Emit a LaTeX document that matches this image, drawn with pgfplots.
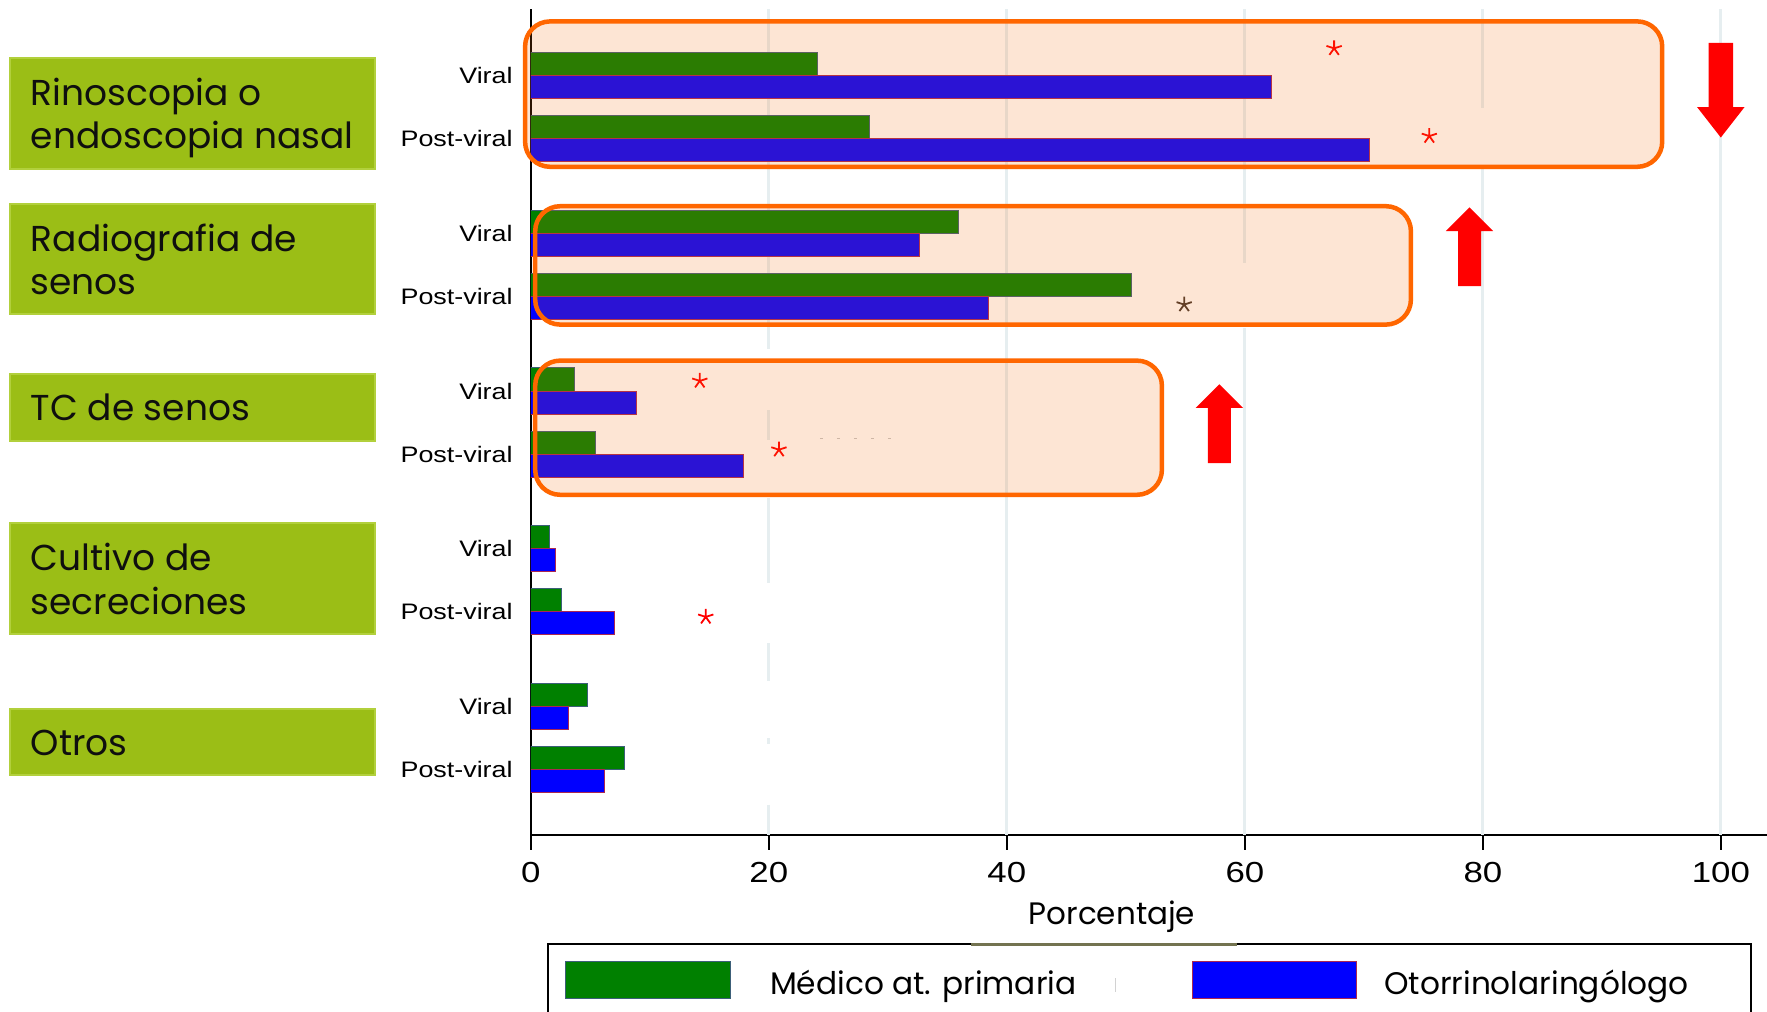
\documentclass[border=0pt]{standalone}
\usepackage{pgfplots}
\pgfplotsset{compat=1.18}
\usepackage{fontspec}
\setmainfont{Liberation Sans}
\newfontfamily\tickfont{Liberation Sans}[FakeStretch=1.2]
\newfontfamily\popfont{Poppins}

\definecolor{medgreen}{RGB}{0,128,0}
\definecolor{orlblue}{RGB}{0,0,255}
\definecolor{greenedge}{RGB}{60,95,120}
\definecolor{blueedge}{RGB}{170,40,80}
\definecolor{boxorange}{RGB}{255,102,0}
\definecolor{tint}{RGB}{244,108,14}
\definecolor{labgreen}{RGB}{155,190,22}
\definecolor{labedge}{RGB}{178,208,60}
\definecolor{gridc}{RGB}{230,238,240}
\definecolor{darkast}{RGB}{70,55,45}
\definecolor{olive}{RGB}{115,115,80}
\definecolor{txt}{RGB}{15,15,15}

\begin{document}
\begin{tikzpicture}
\begin{axis}[
    at={(265.4pt,-417.5pt)}, anchor=south west,
    scale only axis, width=618.25pt, height=413pt,
    xmin=0, xmax=103.9,
    ymin=-12.036, ymax=1.054,
    axis x line=bottom, axis y line=left,
    axis line style={-, line width=1pt},
    xtick={0,20,40,60,80,100},
    ytick={-11,-10,-8.5,-7.5,-6,-5,-3.5,-2.5,-1,0},
    yticklabels={Post-viral,Viral,Post-viral,Viral,Post-viral,Viral,Post-viral,Viral,Post-viral,Viral},
    tick align=outside, major tick length=7.4pt,
    xtick style={black, line width=1pt},
    ytick style={draw=none},
    /pgf/number format/assume math mode=true,
    xticklabel style={font=\tickfont\fontsize{14.5}{16}\selectfont, inner sep=0pt, yshift=-5.8pt},
    yticklabel style={font=\tickfont\fontsize{11.2}{13}\selectfont, inner sep=0pt, xshift=-1.5pt},
    xlabel={Porcentaje},
    xlabel style={at={(axis description cs:0.47,0)}, anchor=north, inner sep=0pt,
        yshift=-32.5pt, font=\popfont\fontsize{15.5}{18}\selectfont},
]
% broken light grid lines (under the bars)
\draw[gridc, line width=1.5pt] (axis cs:20,1.054) -- (axis cs:20,-4.340);
\draw[gridc, line width=1.5pt] (axis cs:20,-5.304) -- (axis cs:20,-5.769);
\draw[gridc, line width=1.5pt] (axis cs:20,-6.697) -- (axis cs:20,-8.036);
\draw[gridc, line width=1.5pt] (axis cs:20,-9.001) -- (axis cs:20,-9.590);
\draw[gridc, line width=1.5pt] (axis cs:20,-10.501) -- (axis cs:20,-10.590);
\draw[gridc, line width=1.5pt] (axis cs:20,-11.555) -- (axis cs:20,-12.036);
\draw[gridc, line width=1.5pt] (axis cs:40,1.054) -- (axis cs:40,-12.036);
\draw[gridc, line width=1.5pt] (axis cs:60,1.054) -- (axis cs:60,-2.965);
\draw[gridc, line width=1.5pt] (axis cs:60,-4.00) -- (axis cs:60,-12.036);
\draw[gridc, line width=1.5pt] (axis cs:80,1.054) -- (axis cs:80,-0.518);
\draw[gridc, line width=1.5pt] (axis cs:80,-1.482) -- (axis cs:80,-12.036);
\draw[gridc, line width=1.5pt] (axis cs:100,1.054) -- (axis cs:100,-12.036);
\draw[gray!45, line width=0.6pt, dash pattern=on 1.5pt off 7pt] (axis cs:24.3,-5.751) -- (axis cs:30.6,-5.751);

% Medico at. primaria
\addplot[xbar, bar width=0.365, bar shift=0.1825, fill=medgreen, draw=greenedge, line width=0.5pt]
    coordinates {(24.1,0) (28.5,-1) (35.9,-2.5) (50.5,-3.5) (3.7,-5) (5.4,-6) (1.6,-7.5) (2.6,-8.5) (4.8,-10) (7.9,-11)};
% Otorrinolaringologo
\addplot[xbar, bar width=0.365, bar shift=-0.1825, fill=orlblue, draw=blueedge, line width=0.5pt]
    coordinates {(62.2,0) (70.5,-1) (32.7,-2.5) (38.5,-3.5) (8.9,-5) (17.9,-6) (2.1,-7.5) (7.0,-8.5) (3.2,-10) (6.2,-11)};

% significance marks
\addplot[only marks, mark=star, mark size=4pt, red, mark options={line width=0.9pt}]
    coordinates {(67.5,0.43) (75.5,-0.96) (14.2,-4.84) (20.85,-5.93) (14.7,-8.58)};
\addplot[only marks, mark=star, mark size=4pt, darkast, mark options={line width=0.9pt}]
    coordinates {(54.9,-3.63)};
\end{axis}

\begin{scope}[x=0.5pt, y=-0.5pt]
% highlight boxes
\draw[boxorange, line width=2.25pt, fill=tint, fill opacity=0.176, rounded corners=12.5pt]
    (525.1,21.4) rectangle (1662.2,166.8);
\draw[boxorange, line width=2.25pt, fill=tint, fill opacity=0.176, rounded corners=12.5pt]
    (535.2,206.2) rectangle (1410.9,324.6);
\draw[boxorange, line width=2.25pt, fill=tint, fill opacity=0.176, rounded corners=12.5pt]
    (535.2,360.6) rectangle (1161.9,494.8);

% arrows
\fill[red] (1708.6,42.8) -- (1733,42.8) -- (1733,107.1) -- (1744.5,107.1) -- (1720.8,137.5)
    -- (1697.1,107.1) -- (1708.6,107.1) -- cycle;
\fill[red] (1458,286.2) -- (1481,286.2) -- (1481,231) -- (1493.2,231) -- (1469.5,207.4)
    -- (1445.8,231) -- (1458,231) -- cycle;
\fill[red] (1207.8,463.2) -- (1230.8,463.2) -- (1230.8,407.9) -- (1243,407.9) -- (1219.3,384.3)
    -- (1195.6,407.9) -- (1207.8,407.9) -- cycle;

% group labels
\tikzset{grp/.style={anchor=base west, inner sep=0pt, text=txt,
    font=\popfont\fontsize{18}{21}\selectfont}}
\draw[fill=labgreen, draw=labedge, line width=1pt] (10.1,57.5) rectangle (375.3,169.0);
\node[grp] at (30.4,105) {Rinoscopia o};
\node[grp] at (30.4,148) {endoscopia nasal};
\draw[fill=labgreen, draw=labedge, line width=1pt] (10.1,204.0) rectangle (375.3,314.4);
\node[grp] at (30.4,251.5) {Radiografia de};
\node[grp] at (30.4,294.5) {senos};
\draw[fill=labgreen, draw=labedge, line width=1pt] (10.1,374.1) rectangle (375.3,440.6);
\node[grp] at (30.4,420.5) {TC de senos};
\draw[fill=labgreen, draw=labedge, line width=1pt] (10.1,522.9) rectangle (375.3,634.4);
\node[grp] at (30.4,570) {Cultivo de};
\node[grp] at (30.4,614) {secreciones};
\draw[fill=labgreen, draw=labedge, line width=1pt] (10.1,708.8) rectangle (375.3,775.3);
\node[grp] at (30.4,755.5) {Otros};

% legend
\draw[black, line width=1pt] (547.7,1030) -- (547.7,944.3) -- (1751.2,944.3) -- (1751.2,1030);
\draw[olive, line width=1.3pt] (971.4,944.3) -- (1237.4,944.3);
\draw[fill=medgreen, draw=greenedge, line width=0.6pt] (565.7,961.3) rectangle (730.2,998.4);
\draw[fill=orlblue, draw=blueedge, line width=0.6pt] (1192.3,961.3) rectangle (1356.8,998.4);
\draw[gray!35, line width=0.8pt] (1115.6,978) -- (1115.6,992);
\node[anchor=base west, inner sep=0pt, font=\popfont\fontsize{15.6}{19}\selectfont] at (769.7,994) {Médico at. primaria};
\node[anchor=base west, inner sep=0pt, font=\popfont\fontsize{15.6}{19}\selectfont] at (1383.8,994) {Otorrinolaringólogo};
\end{scope}

\pgfresetboundingbox
\path[use as bounding box] (0pt,0pt) rectangle (883.5pt,-506pt);
\end{tikzpicture}
\end{document}
